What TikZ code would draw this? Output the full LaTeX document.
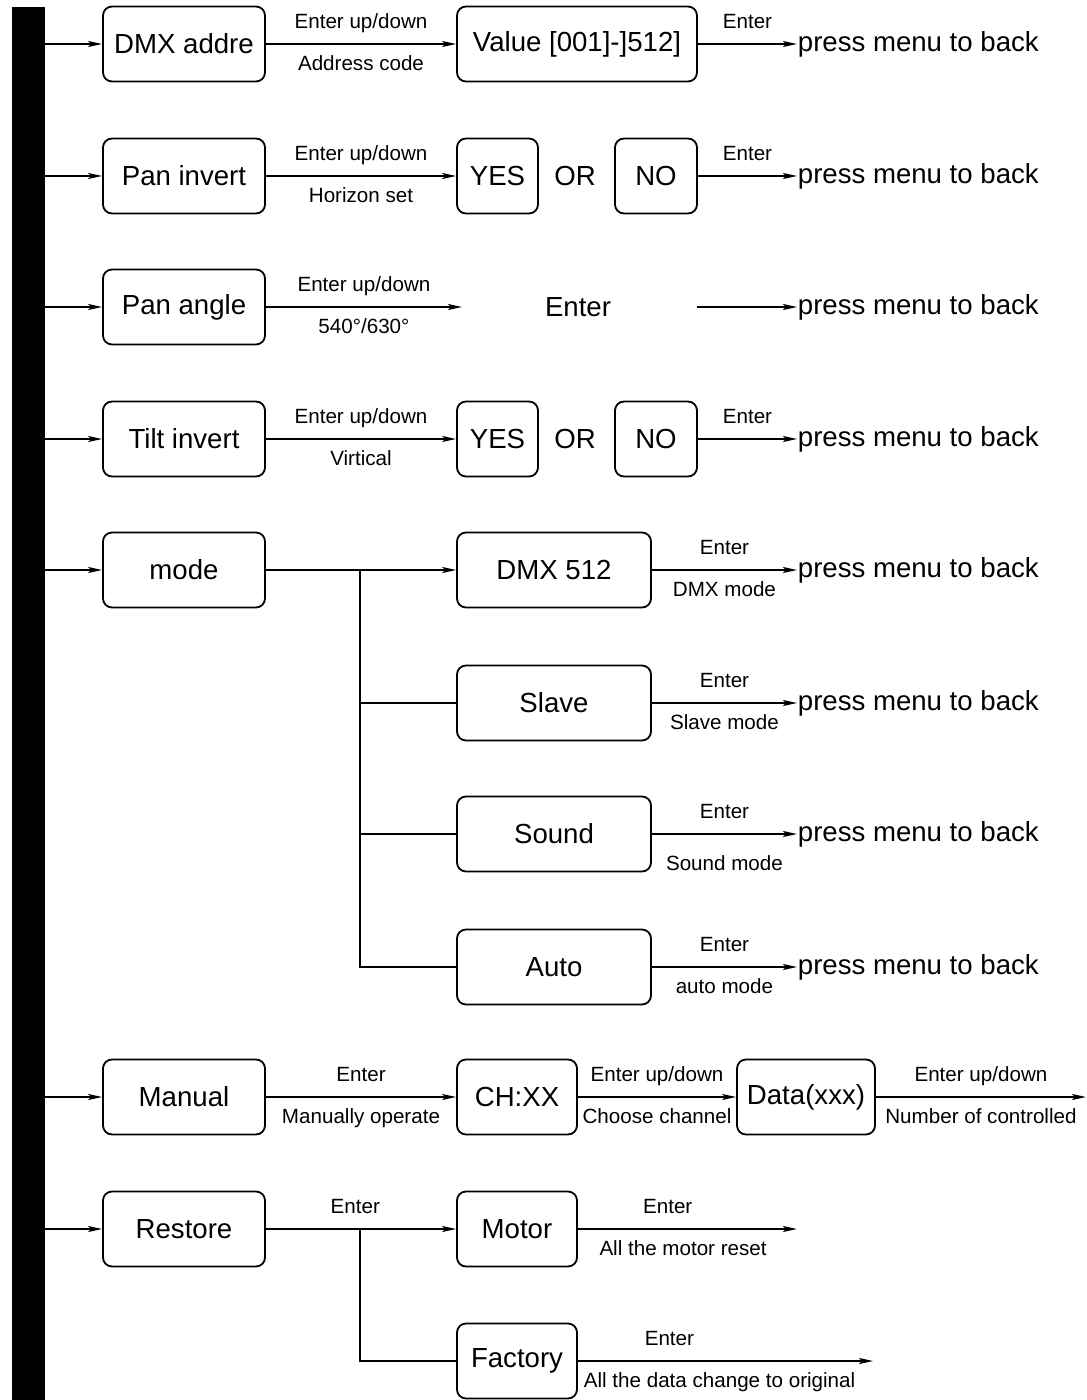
\documentclass[tikz,border=0pt]{standalone}
\usepackage{fontspec}
\setmainfont{Liberation Sans}
\usetikzlibrary{arrows.meta}
\newcommand{\boxfont}{\fontsize{13.8pt}{16pt}\selectfont}
\newcommand{\tagfont}{\fontsize{10.3pt}{12pt}\selectfont}

\begin{document}
\begin{tikzpicture}[x=0.5pt,y=-0.5pt,->,>={Stealth[length=7pt,width=3pt,inset=1.5pt]},line width=0.9pt,
  menu node/.style={draw,rounded corners=4.5pt,minimum width=81pt,minimum height=37.5pt,inner sep=2pt,font=\boxfont},
  back node/.style={anchor=west,inner sep=0pt,font=\boxfont},
  word node/.style={font=\boxfont},
  tag/.style={font=\tagfont,text height=7.5pt,text depth=2pt}]
  \useasboundingbox (0,0) rectangle (1086,1400);

  \node[fill,minimum width=16.5pt,minimum height=696.5pt,inner sep=0pt,outer sep=0pt] (bar) at (28.5,703.5) {};

  % menu items on the left
  \node[menu node] (dmxaddr) at (184,44) {DMX addre};
  \node[menu node] (paninv) at (184,176) {Pan invert};
  \node[menu node] (panang) at (184,307) {Pan angle};
  \node[menu node] (tiltinv) at (184,439) {Tilt invert};
  \node[menu node] (mode) at (184,570) {mode};
  \node[menu node] (manual) at (184,1097) {Manual};
  \node[menu node] (restore) at (184,1229) {Restore};

  % second column
  \node[menu node,minimum width=120pt] (value) at (577,44) {Value [001]-]512]};
  \node[menu node,minimum width=40.5pt] (yes2) at (497.5,176) {YES};
  \node[word node] (or2) at (575,176) {OR};
  \node[menu node,minimum width=41pt] (no2) at (656,176) {NO};
  \node[word node] (enter3) at (578,307) {Enter};
  \node[menu node,minimum width=40.5pt] (yes4) at (497.5,439) {YES};
  \node[word node] (or4) at (575,439) {OR};
  \node[menu node,minimum width=41pt] (no4) at (656,439) {NO};
  \node[menu node,minimum width=97pt] (dmx512) at (554,570) {DMX 512};
  \node[menu node,minimum width=97pt] (slave) at (554,703) {Slave};
  \node[menu node,minimum width=97pt] (sound) at (554,834) {Sound};
  \node[menu node,minimum width=97pt] (auto) at (554,967) {Auto};
  \node[menu node,minimum width=60pt] (chxx) at (517,1097) {CH:XX};
  \node[menu node,minimum width=69pt] (data) at (806,1097) {Data(xxx)};
  \node[menu node,minimum width=60pt] (motor) at (517,1229) {Motor};
  \node[menu node,minimum width=60pt] (factory) at (517,1361) {Factory};

  % way back
  \node[back node] (back1) at (797,44) {press menu to back};
  \node[back node] (back2) at (797,176) {press menu to back};
  \node[back node] (back3) at (797,307) {press menu to back};
  \node[back node] (back4) at (797,439) {press menu to back};
  \node[back node] (back5) at (797,570) {press menu to back};
  \node[back node] (back6) at (797,703) {press menu to back};
  \node[back node] (back7) at (797,834) {press menu to back};
  \node[back node] (back8) at (797,967) {press menu to back};

  \coordinate (a3) at (462,307);
  \coordinate (b3) at (697,307);
  \coordinate (j5) at (360,570);
  \coordinate (e9) at (1086,1097);
  \coordinate (j10) at (360,1229);
  \coordinate (e10) at (797,1229);
  \coordinate (e11) at (873,1361);

  \path[every node/.style={tag}]
    (bar.east |- dmxaddr) edge (dmxaddr)
    (bar.east |- paninv) edge (paninv)
    (bar.east |- panang) edge (panang)
    (bar.east |- tiltinv) edge (tiltinv)
    (bar.east |- mode) edge (mode)
    (bar.east |- manual) edge (manual)
    (bar.east |- restore) edge (restore)
    (dmxaddr) edge node[above=2pt] {Enter up/down} node[below=2pt] {Address code} (value)
    (value) edge node[above=2pt] {Enter} (back1)
    (paninv) edge node[above=2pt] {Enter up/down} node[below=2pt] {Horizon set} (yes2)
    (no2) edge node[above=2pt] {Enter} (back2)
    (panang) edge node[above=2pt] {Enter up/down} node[below=2pt] {540°/630°} (a3)
    (b3) edge (back3)
    (tiltinv) edge node[above=2pt] {Enter up/down} node[below=2pt] {Virtical} (yes4)
    (no4) edge node[above=2pt] {Enter} (back4)
    (mode) edge (dmx512)
    (dmx512) edge node[above=2pt] {Enter} node[below=2pt] {DMX mode} (back5)
    (slave) edge node[above=2pt] {Enter} node[below=2pt] {Slave mode} (back6)
    (sound) edge node[above=2pt] {Enter} node[below=7pt] {Sound mode} (back7)
    (auto) edge node[above=2pt] {Enter} node[below=2pt] {auto mode} (back8)
    (manual) edge node[above=2pt] {Enter} node[below=2pt] {Manually operate} (chxx)
    (chxx) edge node[above=2pt] {Enter up/down} node[below=2pt] {Choose channel} (data)
    (data) edge node[above=2pt] {Enter up/down} node[below=2pt] {Number of controlled} (e9)
    (restore) edge node[above=2pt,pos=0.47] {Enter} (motor)
    (motor) edge node[above=2pt,pos=0.41] {Enter} node[below=2pt,pos=0.48] {All the motor reset} (e10)
    (factory) edge node[above=2pt,pos=0.31] {Enter} node[below=2pt,pos=0.48] {All the data change to original} (e11);

  % branches without tips
  \draw[-] (j5) |- (slave) (j5) |- (sound) (j5) |- (auto);
  \draw[-] (j10) |- (factory);
\end{tikzpicture}
\end{document}
